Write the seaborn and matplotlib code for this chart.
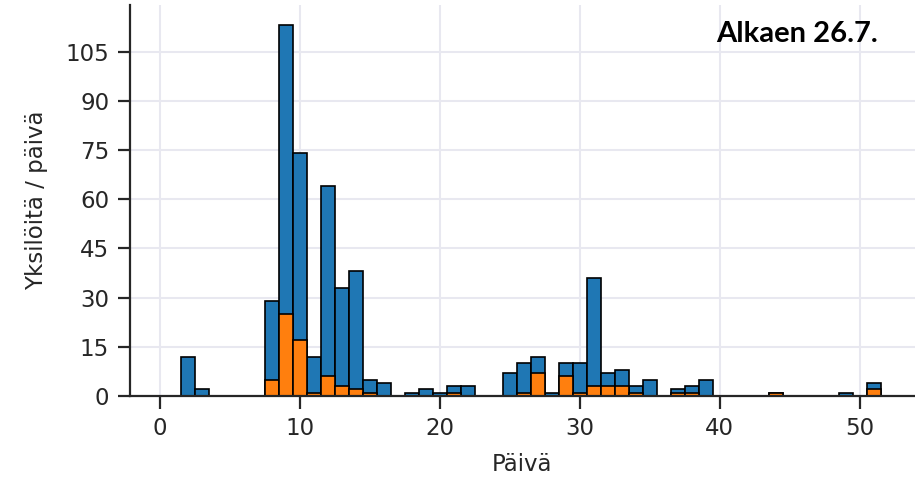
import matplotlib
matplotlib.use("Agg")
import matplotlib.pyplot as plt
import numpy as np
import pandas as pd
import seaborn as sns

# Daily counts (all individuals) and the highlighted subset per day
days = [2, 3, 8, 9, 10, 11, 12, 13, 14, 15, 16, 18, 19, 20, 21, 22,
        25, 26, 27, 28, 29, 30, 31, 32, 33, 34, 35, 37, 38, 39, 44, 49, 51]
total = [12, 2, 29, 113, 74, 12, 64, 33, 38, 5, 4, 1, 2, 1, 3, 3,
         7, 10, 12, 1, 10, 10, 36, 7, 8, 3, 5, 2, 3, 5, 1, 1, 4]
subset = [0, 0, 5, 25, 17, 1, 6, 3, 2, 1, 0, 0, 0, 0, 1, 0,
          0, 1, 7, 0, 6, 1, 3, 3, 3, 1, 0, 1, 1, 0, 1, 0, 2]

x_ticks = [0, 10, 20, 30, 40, 50]
y_ticks = [0, 15, 30, 45, 60, 75, 90, 105]
title_text = "Alkaen 26.7."
x_label = "Päivä"
y_label = "Yksilöitä / päivä"

sns.set_theme(style="ticks")
plt.rcParams["font.family"] = ["DejaVu Sans"]

df_total = pd.DataFrame({"day": days, "n": total})
df_sub = pd.DataFrame({"day": days, "n": subset})

fig = plt.figure(figsize=(9.15, 4.79), dpi=100)
ax = fig.add_axes([130 / 915, 83 / 479, 785 / 915, 391 / 479])

ax.set_axisbelow(True)
ax.grid(True, color="#E8E8F0", linewidth=1.5)

sns.histplot(data=df_total, x="day", weights="n", discrete=True,
             color="#1f77b4", alpha=1, edgecolor="black", linewidth=1.2,
             ax=ax, zorder=2)
sns.histplot(data=df_sub, x="day", weights="n", discrete=True,
             color="#ff7f0e", alpha=1, edgecolor="black", linewidth=1.2,
             ax=ax, zorder=3)

ax.set_xlim(-2.12, 53.95)
ax.set_ylim(0, 119.2)
ax.set_xticks(x_ticks)
ax.set_yticks(y_ticks)

sns.despine(ax=ax)
for side in ("left", "bottom"):
    ax.spines[side].set_linewidth(1.6)
    ax.spines[side].set_color("#262626")
    ax.spines[side].set_zorder(4)

ax.tick_params(axis="both", which="major", length=9, width=1.6,
               color="#262626", labelsize=16.5, labelcolor="#262626", pad=6)

ax.set_xlabel(x_label, fontsize=16.5, color="#262626")
ax.set_ylabel(y_label, fontsize=16.5, color="#262626")
ax.xaxis.set_label_coords(0.5, -0.145)
ax.yaxis.set_label_coords(-0.105, 0.5)

fig.text(878 / 915, (479 - 42) / 479, title_text, ha="right", va="baseline",
         fontsize=21, fontweight="bold",
         family=["Lato", "DejaVu Sans"], color="black")

fig.savefig("out.png", dpi=100)
